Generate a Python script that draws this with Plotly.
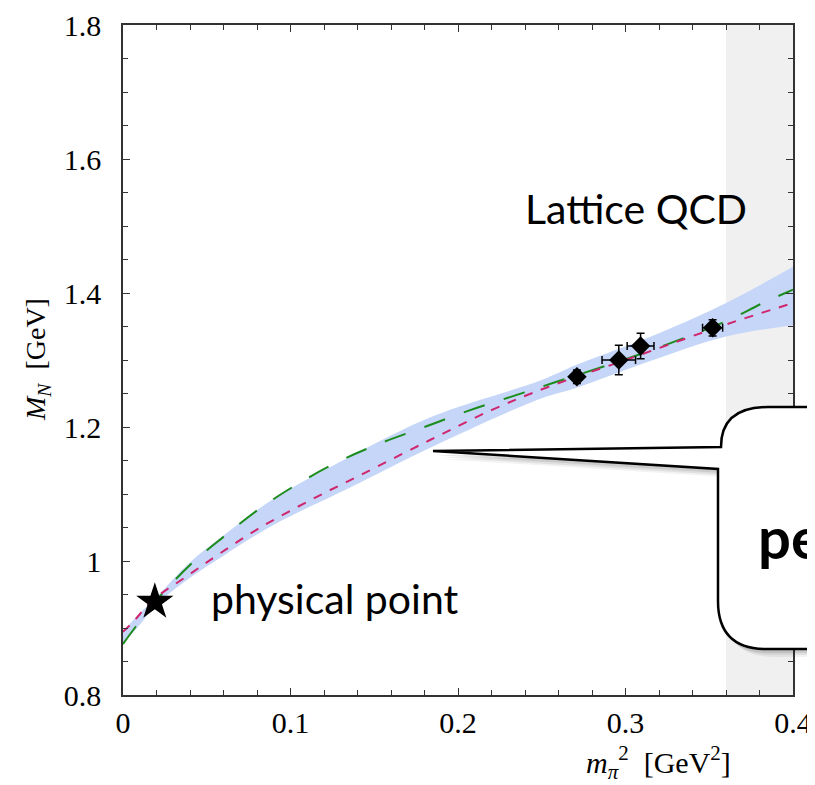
import plotly.graph_objects as go

# ---------------- data ----------------
green_x = [0, 0.007, 0.022, 0.04, 0.06, 0.082, 0.105, 0.13, 0.154, 0.18, 0.206, 0.2315, 0.257, 0.309, 0.36, 0.382, 0.4]
green_y = [0.876, 0.90, 0.947, 0.994, 1.036, 1.079, 1.116, 1.150, 1.176, 1.200, 1.224, 1.245, 1.266, 1.309, 1.358, 1.385, 1.405]

magenta_x = [0, 0.006, 0.018, 0.038, 0.058, 0.082, 0.112, 0.1415, 0.1833, 0.221, 0.253, 0.30, 0.36, 0.4]
magenta_y = [0.8945, 0.909, 0.942, 0.977, 1.0115, 1.050, 1.091, 1.128, 1.1806, 1.2264, 1.259, 1.300, 1.353, 1.385]

band_x = [0, 0.01, 0.02, 0.04, 0.06, 0.09, 0.135, 0.185, 0.25, 0.27, 0.32, 0.36, 0.4]
band_hi = [0.895, 0.922, 0.946, 0.998, 1.038, 1.093, 1.155, 1.216, 1.270, 1.292, 1.340, 1.385, 1.439]
band_lo = [0.877, 0.905, 0.935, 0.975, 1.008, 1.054, 1.109, 1.171, 1.243, 1.258, 1.303, 1.335, 1.352]

lat_x = [0.271, 0.296, 0.309, 0.352]
lat_y = [1.275, 1.300, 1.321, 1.348]
lat_yerr = [0.010, 0.022, 0.019, 0.012]
lat_xerr = [0.0, 0.010, 0.008, 0.006]

phys_x = [0.019]
phys_y = [0.939]

shade_range = [0.36, 0.4]

x_ticks = [0, 0.1, 0.2, 0.3, 0.4]
y_ticks = [0.8, 1.0, 1.2, 1.4, 1.6, 1.8]

# ---------------- layout geometry ----------------
OFF = 8  # default page margin of the browser
W, H = 815 - OFF, 785 - OFF
L, R, T = 123 - OFF, 22, 25 - OFF
PW = W - L - R
PH = 670
B = H - T - PH


def pp(px, py):
    # reference picture pixels -> paper coordinates
    return (px - OFF - L) / PW, (T + PH - (py - OFF)) / PH


def path_from(segs):
    s = ""
    for cmd, pts in segs:
        s += cmd
        s += " ".join("%.5f,%.5f" % pp(*p) for p in pts) + " "
    return s + "Z"


def bubble(dx=0, dy=0):
    o = lambda x, y: (x + dx, y + dy)
    segs = [
        ("M", [o(433, 451)]),
        ("L", [o(721, 447)]),
        ("Q", [o(721, 407), o(768, 407)]),
        ("L", [o(840, 407)]),
        ("L", [o(840, 649)]),
        ("L", [o(766, 649)]),
        ("Q", [o(718, 649), o(718, 601)]),
        ("L", [o(718, 469)]),
    ]
    return path_from(segs)


fig = go.Figure()

# uncertainty band
fig.add_trace(go.Scatter(x=band_x, y=band_lo, mode="lines", line=dict(width=0, shape="spline"),
                         showlegend=False, hoverinfo="skip"))
fig.add_trace(go.Scatter(x=band_x, y=band_hi, mode="lines", line=dict(width=0, shape="spline"),
                         fill="tonexty", fillcolor="#c5d6f8", showlegend=False, hoverinfo="skip"))

# curves
fig.add_trace(go.Scatter(x=green_x, y=green_y, mode="lines",
                         line=dict(color="#1c8c1c", width=2, dash="22px,20px", shape="spline"),
                         showlegend=False))
fig.add_trace(go.Scatter(x=magenta_x, y=magenta_y, mode="lines",
                         line=dict(color="#d0266e", width=2, dash="9px,9px", shape="spline"),
                         showlegend=False))

# lattice points
fig.add_trace(go.Scatter(x=lat_x, y=lat_y, mode="markers",
                         marker=dict(symbol="diamond", size=15, color="black"),
                         error_y=dict(type="data", array=lat_yerr, color="black", thickness=1.5, width=4),
                         error_x=dict(type="data", array=lat_xerr, color="black", thickness=1.5, width=4),
                         showlegend=False))

# physical point
fig.add_trace(go.Scatter(x=phys_x, y=phys_y, mode="markers",
                         marker=dict(symbol="star", size=28, color="black"),
                         showlegend=False))

shapes = [
    dict(type="rect", xref="x", yref="paper", x0=shade_range[0], x1=shade_range[1], y0=0, y1=1,
         fillcolor="#f0f0f0", line=dict(width=0), layer="below"),
]
for d, a in [(7, 0.05), (5, 0.07), (3, 0.09)]:
    shapes.append(dict(type="path", xref="paper", yref="paper", path=bubble(d, d + 1),
                       fillcolor="rgba(0,0,0,%.2f)" % a, line=dict(width=0), layer="above"))
shapes.append(dict(type="path", xref="paper", yref="paper", path=bubble(),
                   fillcolor="white", line=dict(color="black", width=2.5), layer="above"))

serif = "Liberation Serif"
sans = "Lato"

annotations = [
    dict(text="Lattice QCD", x=pp(636, 0)[0], y=pp(0, 209)[1], xref="paper", yref="paper",
         showarrow=False, font=dict(family=sans, size=41, color="black"), xanchor="center", yanchor="middle"),
    dict(text="physical point", x=pp(334, 0)[0], y=pp(0, 598)[1], xref="paper", yref="paper",
         showarrow=False, font=dict(family=sans, size=41, color="black"), xanchor="center", yanchor="middle"),
    dict(text="<b>pe</b>", x=pp(756, 0)[0], y=pp(0, 536)[1], xref="paper", yref="paper",
         showarrow=False, font=dict(family=sans, size=58, color="black"), xanchor="left", yanchor="middle"),
    dict(text="<i>m</i><sub><i>π</i></sub><sup>2</sup>  [GeV<sup>2</sup>]", x=pp(658, 0)[0], y=pp(0, 762)[1],
         xref="paper", yref="paper", showarrow=False, font=dict(family=serif, size=30, color="black"),
         xanchor="center", yanchor="middle"),
    dict(text="<i>M</i><sub><i>N</i></sub>  [GeV]", x=pp(37, 0)[0], y=0.5, xref="paper", yref="paper",
         showarrow=False, textangle=-90, font=dict(family=serif, size=28, color="black"),
         xanchor="center", yanchor="middle"),
]

axis_common = dict(showline=True, linecolor="#333333", linewidth=1.5, mirror="ticks", ticks="inside",
                   ticklen=7, tickwidth=1, tickcolor="#333333", showgrid=False, zeroline=False,
                   tickfont=dict(family=serif, size=30, color="black"))

fig.update_layout(
    width=W, height=H,
    margin=dict(l=L, r=R, t=T, b=B, autoexpand=False),
    paper_bgcolor="white", plot_bgcolor="white",
    xaxis=dict(range=[0, 0.4], tickvals=x_ticks, ticktext=[("%g" % v) for v in x_ticks],
               minor=dict(dtick=0.02, ticks="inside", ticklen=5, tickcolor="#333333", showgrid=False),
               ticklabelstandoff=0, **axis_common),
    yaxis=dict(range=[0.8, 1.8], tickvals=y_ticks, ticktext=[("%g" % v) for v in y_ticks],
               minor=dict(dtick=0.05, ticks="inside", ticklen=5, tickcolor="#333333", showgrid=False),
               ticklabelstandoff=14, **axis_common),
    shapes=shapes,
    annotations=annotations,
    showlegend=False,
)

fig.write_html("out.html")
